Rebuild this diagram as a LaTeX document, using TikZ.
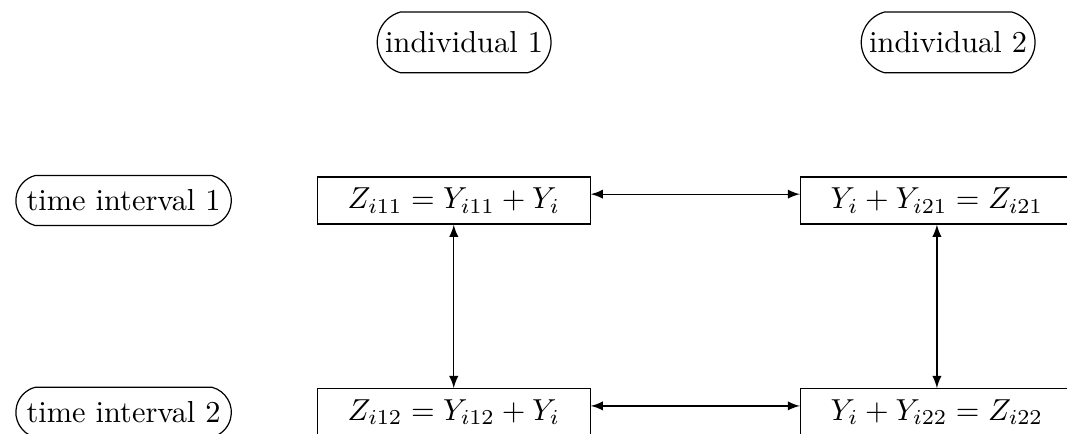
\documentclass[tikz,border=0pt]{standalone}
\usetikzlibrary{shapes.misc}
\begin{document}
\begin{tikzpicture}[
  etich/.style={draw, rounded rectangle, rounded rectangle arc length=150, inner xsep=2.75pt, inner ysep=4.7pt},
  casella/.style={draw, rectangle, minimum width=89.8pt, minimum height=15.5pt},
  freccia/.style={latex-latex}]
  \useasboundingbox (0,0) rectangle (12.345,-5.021);

  % Individui
  \node[etich, inner xsep=2pt, minimum height=20pt] (ind1) at (5.37,-0.49) {individual 1};
  \node[etich, inner xsep=2pt, minimum height=20pt] (ind2) at (10.97,-0.49) {individual 2};

  % Intervalli di tempo
  \node[etich] (t1) at (1.43,-2.32) {time interval 1};
  \node[etich] (t2) at (1.43,-4.77) {time interval 2};

  % Caselle
  \node[casella] (z11) at (5.25,-2.32) {$Z_{i11} = Y_{i11} + Y_i$};
  \node[casella] (z21) at (10.84,-2.32) {$Y_i + Y_{i21} = Z_{i21}$};
  \node[casella] (z12) at (5.25,-4.77) {$Z_{i12} = Y_{i12} + Y_i$};
  \node[casella] (z22) at (10.84,-4.77) {$Y_i + Y_{i22} = Z_{i22}$};

  % Frecce
  \draw[freccia] ([yshift=2.1pt]z11.east) -- ([yshift=2.1pt]z21.west);
  \draw[freccia] ([yshift=2.1pt]z12.east) -- ([yshift=2.1pt]z22.west);
  \draw[freccia] (z11) -- (z12);
  \draw[freccia] (z21) -- (z22);
\end{tikzpicture}
\end{document}
